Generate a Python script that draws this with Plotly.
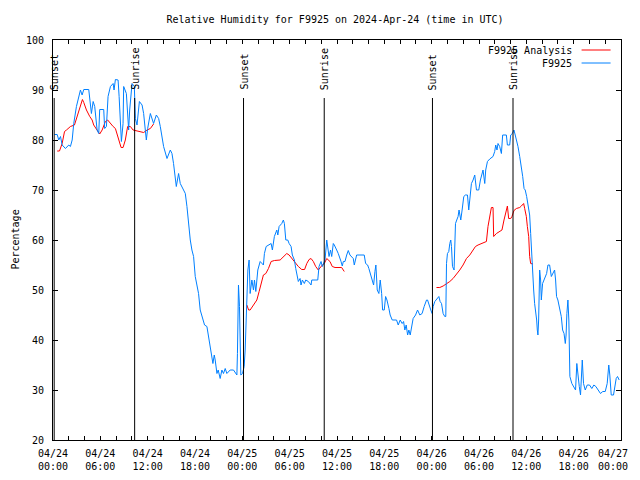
import plotly.graph_objects as go

# hours since 2024-04-24 00:00 UTC
blue_h = [0.19, 0.53, 0.73, 0.95, 1.16, 1.58, 2.0, 2.21, 2.43, 2.63, 2.97, 3.26, 3.48, 3.69, 3.90, 4.53, 4.66, 4.87,
          5.09, 5.29, 5.59, 5.80, 5.92, 6.43, 6.55, 6.77, 6.98, 7.28, 7.62, 7.74, 7.91, 8.25, 8.38, 8.54, 8.67, 8.88,
          8.96, 9.30, 9.46, 9.59, 9.72, 10.02, 10.31, 10.44, 10.65, 10.95, 11.29, 11.49, 11.70, 11.83, 12.0, 12.34,
          12.75, 13.10, 13.39, 13.60, 14.02, 14.45, 14.87, 15.08, 15.28, 15.63, 15.92, 16.13, 16.55, 16.77, 16.98,
          17.18, 17.40, 17.61, 17.82, 18.03, 18.25, 18.45, 18.66, 18.88, 19.21, 19.51, 19.71, 19.93, 20.14, 20.27,
          20.44, 20.56, 20.78, 20.94, 21.19, 21.41, 21.61, 21.83, 22.04, 22.46, 22.88, 23.31, 23.38, 23.51, 23.64,
          23.81, 24.02, 24.23, 24.36, 24.57, 24.70, 24.86, 24.99, 25.21, 25.41, 25.54, 25.71, 25.96, 26.26, 26.67,
          26.80, 27.02, 27.31, 27.65, 27.81, 28.06, 28.37, 28.50, 28.66, 29.0, 29.20, 29.33, 29.51, 29.76, 29.93,
          30.18, 30.34, 30.60, 30.77, 30.94, 31.10, 31.32, 31.44, 31.61, 31.86, 32.04, 32.37, 32.71, 32.80, 33.22,
          33.56, 33.72, 33.98, 34.14, 34.48, 34.70, 34.99, 35.18, 35.33, 35.53, 35.66, 35.96, 36.16, 36.51, 36.67,
          36.80, 37.01, 37.23, 37.43, 37.64, 37.86, 38.06, 38.19, 38.36, 38.49, 38.91, 39.12, 39.45, 39.63, 39.88,
          40.04, 40.30, 40.46, 40.64, 40.81, 40.93, 41.10, 41.31, 41.48, 41.66, 41.78, 41.99, 42.16, 42.33, 42.58,
          42.74, 43.0, 43.55, 43.76, 44.01, 44.26, 44.44, 44.60, 44.77, 44.95, 45.11, 45.28, 45.45, 45.65, 45.96,
          46.21, 46.50, 46.79, 47.05, 47.35, 47.48, 47.64, 47.89, 48.06, 48.19, 48.40, 48.74, 48.91, 49.07, 49.25,
          49.45, 49.66, 49.79, 49.88, 50.0, 50.17, 50.30, 50.42, 50.51, 50.64, 50.84, 51.02, 51.18, 51.35, 51.47,
          51.69, 51.86, 52.07, 52.28, 52.54, 52.70, 52.83, 53.04, 53.25, 53.46, 53.68, 53.97, 54.18, 54.38, 54.51,
          54.73, 54.85, 55.07, 55.36, 55.78, 55.99, 56.12, 56.28, 56.41, 56.62, 56.84, 57.0, 57.47, 57.60, 57.89,
          58.02, 58.23, 58.43, 58.59, 58.86, 58.94, 59.16, 59.37, 59.54, 59.71, 59.86, 60.04, 60.21, 60.42, 60.55,
          60.64, 60.76, 60.93, 61.05, 61.18, 61.31, 61.39, 61.47, 61.56, 61.69, 61.81, 61.90, 62.06, 62.23, 62.41,
          62.57, 62.74, 62.95, 63.17, 63.33, 63.58, 63.71, 63.83, 64.0, 64.21, 64.43, 64.60, 64.78, 64.94, 65.04,
          65.14, 65.27, 65.39, 65.52, 65.77, 66.03, 66.24, 66.40, 66.53, 66.71, 66.87, 67.09, 67.25, 67.47, 67.72,
          68.01, 68.30, 68.56, 68.81, 69.06, 69.40, 69.69, 70.0, 70.25, 70.45, 70.58, 70.76, 71.05, 71.18, 71.39,
          71.56, 71.77]
blue_rh = [81.1, 81.1, 80, 80.7, 79, 78.3, 79, 78.7, 80, 83.3, 86.7, 88.7, 90, 89, 90.1, 90.1, 87.7, 85.3,
           87.7, 86.7, 82, 81.3, 86.1, 86.1, 82.3, 82.7, 88.7, 90.7, 91.3, 90, 92.1, 92, 88.7, 82, 79.7, 83.3,
           90.7, 89.3, 86, 82, 86, 91.3, 90.7, 84.3, 83, 87.7, 87, 85.3, 82, 80, 82.3, 85.3,
           83.3, 85, 84.3, 82.7, 78.7, 76.3, 78, 77.3, 75.3, 70.7, 73.3, 71.3, 70, 69.3, 66.7,
           62.7, 60, 58, 56.7, 52.7, 50.7, 49.3, 46, 44.7, 43, 42.7, 40.7, 38.7, 36, 35.3,
           37, 36, 33.3, 34, 32.3, 34, 33.3, 34.3, 33.3, 34, 34, 33, 37.3, 51, 46.7,
           33, 33.3, 34.7, 38, 47, 54, 56, 49.3, 52, 50, 52, 49.7, 54, 55.7, 55,
           57.3, 58.7, 59, 59.3, 58, 60.7, 62, 61, 62.7, 63.3, 64, 63.3, 60, 60, 59.3,
           58.7, 57, 56, 54.3, 52.7, 51.7, 52.3, 51, 52, 51.3, 52, 51.7, 51, 52, 52,
           52, 54.7, 55.7, 54.7, 56, 60, 56.7, 58, 56.7, 59.3, 59, 58, 57.3, 55.7, 54.8,
           55.7, 55.7, 57, 57.9, 57, 56.7, 56.3, 55, 56.3, 57, 57, 57, 57, 55.3, 55,
           54.3, 52.7, 52, 51, 53.7, 55, 50, 49.3, 52, 49.3, 46, 46, 48.7, 48, 46.3,
           45, 44, 44, 43, 44, 43.3, 43.7, 42, 43, 41, 42, 41, 43, 44.3, 45,
           46, 45, 45.3, 46.7, 48, 48, 47, 46, 45.3, 46.7, 47.7, 48.3, 48.7, 47.7, 47.3,
           45.3, 44.7, 44.7, 55.3, 57.3, 57.7, 59.3, 60, 58.7, 54.7, 54, 63.3, 64, 64.7, 66,
           64, 66, 68.7, 69, 69, 66, 68, 71.3, 72, 73, 70, 70, 72, 73.3, 74,
           71.3, 74, 75.7, 76.2, 76.7, 77.7, 79, 78, 79.3, 78.7, 77.3, 81, 81, 79, 79,
           81, 81.3, 82, 81, 79.3, 78.7, 76.7, 74.7, 72.7, 70.3, 70, 68.7, 67.3, 65, 61.3,
           58, 54, 50, 47.3, 46, 44, 42, 41, 44, 54, 52, 48, 51.3, 52, 52.7,
           53.3, 55, 55, 52.7, 53.3, 54, 52, 48.7, 48, 46.3, 44.7, 42, 41.3, 39.3, 41,
           45.3, 48, 44, 32.7, 31.3, 30.7, 30, 35.3, 33, 30.7, 29, 36, 31.3, 30, 31,
           31, 30.3, 31, 30.7, 30, 29.3, 29.7, 29.7, 31.3, 35, 33, 29, 29, 30.7, 32.3,
           32.7, 32]

red_h = [0.53, 0.82, 1.16, 1.46, 1.71, 2.21, 2.72, 3.06, 3.39, 3.73, 3.90, 4.24, 4.66, 4.96, 5.16, 5.59, 5.92,
         6.23, 6.64, 6.93, 7.28, 7.62, 7.91, 8.33, 8.63, 8.88, 9.17, 9.46, 9.81, 10.15, 10.57, 10.98, 11.49,
         11.92, 12.34, 12.75, None,
         24.57, 24.80, 24.99, 25.41, 25.84, 26.13, 26.38, 26.67, 26.98, 27.31, 27.65, 28.07, 28.79, 29.20, 29.63,
         29.93, 30.27, 30.69, 31.10, 31.53, 31.89, 32.17, 32.46, 32.71, 33.0, 33.30, 33.63, 34.14, 34.39, 34.70,
         35.11, 35.40, 35.75, 36.59, 36.80, 36.92, None,
         48.61, 49.03, 49.45, 49.88, 50.30, 50.71, 51.14, 51.56, 51.98, 52.41, 52.83, 53.25, 53.55, 53.88, 54.51,
         54.94, 55.14, 55.36, 55.57, 55.78, 55.86, 56.21, 56.62, 56.91, 57.17, 57.42, 57.60, 57.76, 58.02, 58.18,
         58.43, 58.74, 59.16, 59.37, 59.66, 59.79, 60.0, 60.13, 60.30, 60.42, 60.55, 60.84]
red_rh = [77.8, 77.8, 79.3, 81.7, 82, 82.7, 83, 84.7, 86.7, 88.1, 87.5, 86, 84.7, 84, 83, 82, 81.2,
          82, 83.7, 84, 83.3, 82.7, 82.3, 80.3, 78.5, 78.5, 80, 82.7, 82.7, 82, 81.8, 81.7, 81.5,
          82, 82.3, 83.2, None,
          47, 46, 46, 47, 48, 49.7, 51.3, 53, 53.3, 54.3, 55.7, 55.9, 56, 56.7, 57.3,
          57, 56.3, 55.3, 54.7, 54.1, 54.1, 55.3, 56.1, 56.3, 55.7, 54.7, 54, 55, 55.3, 56.3,
          55.7, 54.7, 54.5, 54.5, 54, 53.7, None,
          50.5, 50.5, 50.8, 51.2, 51.7, 52.3, 53.1, 54, 55, 56.3, 57, 58, 58.7, 59, 59.5,
          59.7, 62.7, 64.7, 66.5, 66.5, 60.7, 61.3, 61.7, 62, 64, 66, 66.8, 64.3, 64.3, 64.7,
          65.9, 66.3, 66.5, 66.8, 67.3, 66.3, 64.7, 62.7, 60.7, 56.7, 55.3, 55.2]

sun_h = [0.15, 10.35, 24.15, 34.38, 48.10, 58.31]
sun_labels = ["Sunset", "Sunrise", "Sunset", "Sunrise", "Sunset", "Sunrise"]

tick_h = list(range(0, 73, 2))
days = ["04/24", "04/25", "04/26", "04/27"]
tick_text = []
for h in tick_h:
    if h % 6 == 0 and h < 72:
        tick_text.append(f"{days[h // 24]}<br>{h % 24:02d}:00")
    else:
        tick_text.append("")
last_label = f"{days[3]}<br>00:00"

series_names = ["F9925 Analysis", "F9925"]
series_colors = ["#ff0000", "#0080ff"]

FONT = "DejaVu Sans Mono"

fig = go.Figure()
fig.add_trace(go.Scatter(x=red_h, y=red_rh, mode="lines", name=series_names[0],
                         line=dict(color=series_colors[0], width=1), connectgaps=False))
fig.add_trace(go.Scatter(x=blue_h, y=blue_rh, mode="lines", name=series_names[1],
                         line=dict(color=series_colors[1], width=1)))

for h, lab in zip(sun_h, sun_labels):
    fig.add_shape(type="line", x0=h, x1=h, y0=20, y1=88.4, xref="x", yref="y",
                  line=dict(color="black", width=1))
    fig.add_annotation(x=h, y=89.6, xref="x", yref="y", text=lab, textangle=-90,
                       showarrow=False, xanchor="center", yanchor="bottom",
                       font=dict(family=FONT, size=10, color="black"))

# last x tick label, kept inside the page
fig.add_annotation(x=1.0165, y=-0.049, xref="paper", yref="paper", text=last_label, showarrow=False,
                   xanchor="right", yanchor="middle", align="center",
                   font=dict(family=FONT, size=10, color="black"))

# legend (gnuplot style: text right-aligned, sample line to the right)
for i, (nm, col) in enumerate(zip(series_names, series_colors)):
    yp = 0.975 - i * 0.0325
    fig.add_annotation(x=0.918, y=yp, xref="paper", yref="paper", text=nm, showarrow=False,
                       xanchor="right", yanchor="middle", font=dict(family=FONT, size=10, color="black"))
    fig.add_shape(type="line", x0=0.9306, x1=0.9817, y0=yp, y1=yp, xref="paper", yref="paper",
                  line=dict(color=col, width=1))

fig.add_annotation(x=-0.0677, y=0.5, xref="paper", yref="paper", text="Percentage", textangle=-90,
                   showarrow=False, xanchor="center", yanchor="middle",
                   font=dict(family=FONT, size=10, color="black"))

fig.update_layout(
    width=624, height=464,
    margin=dict(l=44.5, r=10.5, t=32, b=32, autoexpand=False),
    paper_bgcolor="white", plot_bgcolor="white",
    showlegend=False,
    title=dict(text="Relative Humidity for F9925 on 2024-Apr-24 (time in UTC)", x=0.4965, xref="paper",
               xanchor="center", y=1 - 11 / 464, yanchor="middle",
               font=dict(family=FONT, size=10, color="black")),
    font=dict(family=FONT, size=10, color="black"),
)
fig.update_xaxes(range=[0, 72], tickvals=tick_h, ticktext=tick_text, ticks="inside", ticklen=4,
                 tickcolor="black", showline=True, linecolor="black", linewidth=1, mirror="ticks",
                 showgrid=False, zeroline=False, ticklabelstandoff=4, automargin=False,
                 tickfont=dict(family=FONT, size=10, color="black"))
fig.update_yaxes(range=[20, 100], dtick=10, ticks="inside", ticklen=5, tickcolor="black",
                 showline=True, linecolor="black", linewidth=1, mirror="ticks", showgrid=False,
                 zeroline=False, ticklabelstandoff=6, automargin=False,
                 tickfont=dict(family=FONT, size=10, color="black"))

fig.write_html("out.html")
